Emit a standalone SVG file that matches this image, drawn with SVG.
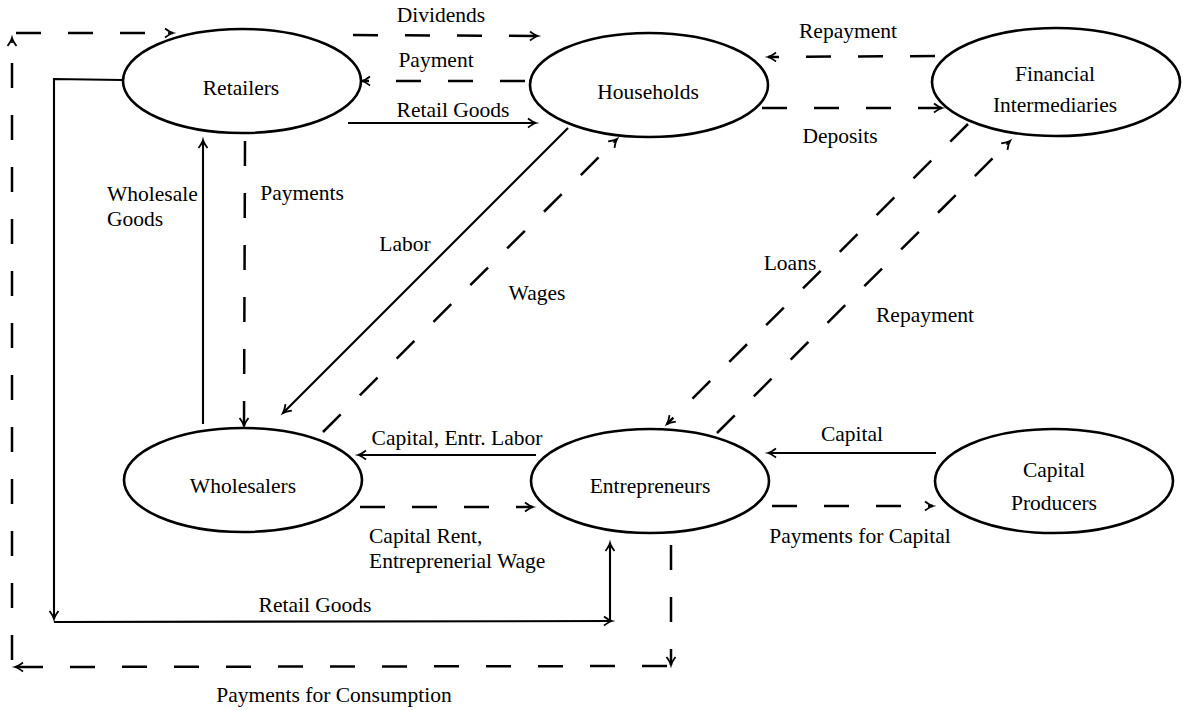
<svg xmlns="http://www.w3.org/2000/svg" width="1183" height="710" viewBox="0 0 1183 710" font-family="'Liberation Serif', 'DejaVu Serif', serif">
<style>
text{font-family:'Liberation Serif','DejaVu Serif',serif;font-size:21.5px;fill:#000}
.c{text-anchor:middle}
.node ellipse{fill:#fff;stroke:#000;stroke-width:2.6}
.s{fill:none;stroke:#000;stroke-width:2.1}
.d{fill:none;stroke:#000;stroke-width:2.5;stroke-dasharray:25 27}
</style>
<defs>
<marker id="ah" markerUnits="userSpaceOnUse" viewBox="-10 -6 12 12" refX="0" refY="0" markerWidth="12" markerHeight="12" orient="auto" overflow="visible">
<path d="M -8 -4.5 Q -3 -0.8 0 0 Q -3 0.8 -8 4.5" fill="none" stroke="#000" stroke-width="1.8" stroke-dasharray="none"/>
<path d="M -5 0 L 0 0" stroke="#000" stroke-width="1.8" stroke-dasharray="none"/>
</marker>
</defs>
<g id="connectors">
<line class="d" x1="671" y1="545" x2="671" y2="665" marker-end="url(#ah)"/>
<line class="d" x1="667" y1="666" x2="15" y2="667" marker-end="url(#ah)"/>
<line class="d" x1="12" y1="660" x2="12" y2="38" marker-end="url(#ah)"/>
<line class="d" x1="16" y1="33" x2="173" y2="33" marker-end="url(#ah)"/>
<line class="d" x1="353" y1="35" x2="538" y2="36" marker-end="url(#ah)"/>
<line class="d" x1="525" y1="81" x2="362" y2="81" marker-end="url(#ah)"/>
<line class="s" x1="348" y1="123" x2="536" y2="123" marker-end="url(#ah)"/>
<line class="d" x1="935" y1="56" x2="768" y2="57" marker-end="url(#ah)"/>
<line class="d" x1="762" y1="108" x2="942" y2="108" marker-end="url(#ah)"/>
<line class="s" x1="203" y1="424" x2="203" y2="140" marker-end="url(#ah)"/>
<line class="d" x1="245" y1="141" x2="244" y2="426" marker-end="url(#ah)"/>
<line class="s" x1="568" y1="128" x2="283" y2="413" marker-end="url(#ah)"/>
<line class="d" x1="323" y1="432" x2="617" y2="139" marker-end="url(#ah)"/>
<line class="d" x1="968" y1="124" x2="667" y2="424" marker-end="url(#ah)"/>
<line class="d" x1="717" y1="433" x2="1010" y2="141" marker-end="url(#ah)"/>
<line class="s" x1="536" y1="455" x2="358" y2="455" marker-end="url(#ah)"/>
<line class="d" x1="360" y1="507" x2="533" y2="507" marker-end="url(#ah)"/>
<path class="s" d="M 122 80 L 54 79 L 54 619" marker-end="url(#ah)"/>
<line class="s" x1="54" y1="622" x2="612" y2="621" marker-end="url(#ah)"/>
<line class="s" x1="610" y1="621" x2="610" y2="543" marker-end="url(#ah)"/>
<line class="s" x1="936" y1="453" x2="768" y2="453" marker-end="url(#ah)"/>
<line class="d" x1="772" y1="506" x2="933" y2="506" marker-end="url(#ah)"/>
<text class="c" x="441" y="22">Dividends</text>
<text class="c" x="436" y="67">Payment</text>
<text class="c" x="453" y="117">Retail Goods</text>
<text class="c" x="848" y="38">Repayment</text>
<text class="c" x="840" y="143">Deposits</text>
<text x="107" y="201">Wholesale</text>
<text x="107" y="226">Goods</text>
<text class="c" x="302" y="200">Payments</text>
<text class="c" x="405" y="251">Labor</text>
<text class="c" x="537" y="300">Wages</text>
<text class="c" x="790" y="270">Loans</text>
<text class="c" x="925" y="322">Repayment</text>
<text class="c" x="457" y="445">Capital, Entr. Labor</text>
<text x="369" y="543">Capital Rent,</text>
<text x="369" y="568">Entreprenerial Wage</text>
<text class="c" x="315" y="612">Retail Goods</text>
<text class="c" x="334" y="702">Payments for Consumption</text>
<text class="c" x="852" y="441">Capital</text>
<text class="c" x="860" y="543">Payments for Capital</text>
</g>
<g id="retailers" class="node"><ellipse cx="242" cy="81" rx="119" ry="52"/><text class="c" x="241" y="95">Retailers</text></g>
<g id="households" class="node"><ellipse cx="649" cy="85" rx="119" ry="52"/><text class="c" x="648" y="99">Households</text></g>
<g id="financial-intermediaries" class="node"><ellipse cx="1056" cy="82" rx="124" ry="54"/><text class="c" x="1055" y="81">Financial</text><text class="c" x="1055" y="112">Intermediaries</text></g>
<g id="wholesalers" class="node"><ellipse cx="243" cy="480" rx="119" ry="52"/><text class="c" x="243" y="493">Wholesalers</text></g>
<g id="entrepreneurs" class="node"><ellipse cx="650" cy="481" rx="119" ry="52"/><text class="c" x="650" y="493">Entrepreneurs</text></g>
<g id="capital-producers" class="node"><ellipse cx="1054" cy="481" rx="119" ry="52"/><text class="c" x="1054" y="477">Capital</text><text class="c" x="1054" y="510">Producers</text></g>
</svg>
